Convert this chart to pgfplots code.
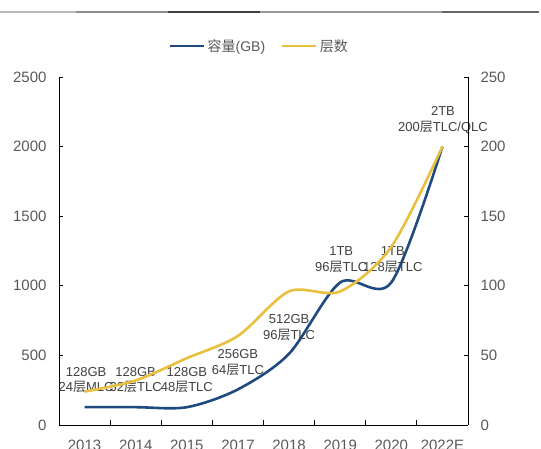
\documentclass[border=0pt]{standalone}
\usepackage{pgfplots}
\pgfplotsset{compat=1.18}
\usepackage{fontspec}
\setmainfont{Liberation Sans}
\newfontfamily\cjk{Noto Sans CJK SC}
\definecolor{capblue}{RGB}{31,74,128}
\definecolor{layyellow}{RGB}{233,191,62}
\definecolor{ticktext}{RGB}{89,89,89}
\definecolor{notetext}{RGB}{64,64,64}
\newcommand{\ceng}{{\cjk 层}}

\begin{document}
\begin{tikzpicture}
\path[use as bounding box] (0pt,0pt) rectangle (541pt,448pt);
% header rule
\draw[line width=1.6pt, color=black!28] (0pt,436pt) -- (76pt,436pt);
\draw[line width=1.2pt, color=black!45] (76pt,436pt) -- (168pt,436pt);
\draw[line width=1.2pt, color=black!75] (168pt,436pt) -- (260pt,436pt);
\draw[line width=1.2pt, color=black!40] (260pt,436pt) -- (442pt,436pt);
\draw[line width=1.2pt, color=black!60] (442pt,436pt) -- (539pt,436pt);

\pgfplotsset{
  every axis/.append style={
    scale only axis, width=409pt, height=348pt,
    at={(59pt,23pt)}, anchor=south west,
    xmin=-0.5, xmax=7.5,
    tick align=inside,
    axis line style={line width=0.9pt, black},
    tick style={line width=0.9pt, black},
    major tick length=4pt,
    ticklabel style={font=\fontsize{15}{18}\selectfont, color=ticktext},
    /pgf/number format/assume math mode=true,
    /pgf/number format/1000 sep={},
  },
}

\begin{axis}[
    clip=false,
    axis x line*=bottom,
    axis y line*=left,
    ymin=0, ymax=2500,
    ytick={0,500,1000,1500,2000,2500},
    xtick={0,1,2,3,4,5,6,7},
    xticklabels={2013,2014,2015,2017,2018,2019,2020,2022E},
    x tick style={draw=none},
    minor xtick={0.5,1.5,2.5,3.5,4.5,5.5,6.5},
    minor x tick style={draw=black, line width=0.9pt},
    minor tick length=5pt,
    xticklabel style={yshift=-11pt},
    yticklabel style={xshift=-9pt},
    legend columns=2,
    legend style={at={(0.49,1.089)}, anchor=center, draw=none, fill=none,
      font=\fontsize{14}{16}\selectfont, text=ticktext,
      /tikz/every even column/.append style={column sep=14pt}},
    legend image code/.code={\draw[#1] (0pt,0pt) -- (34pt,0pt);},
]
\addplot[capblue, line width=2.6pt, smooth] coordinates {
    (0,128) (1,128) (2,128) (3,256) (4,512) (5,1024) (6,1024) (7,2000)
};
\addlegendentry{{\cjk 容量}(GB)}
\addlegendimage{layyellow, line width=2.6pt}
\addlegendentry{{\cjk 层数}}

\begin{scope}[every node/.style={font=\fontsize{13}{15.5}\selectfont, text=notetext, align=center, inner sep=0pt}]
\node at (axis cs:0.03,323) {128GB\\24\ceng MLC};
\node at (axis cs:1.0,323) {128GB\\32\ceng TLC};
\node at (axis cs:2.0,323) {128GB\\48\ceng TLC};
\node at (axis cs:3.0,449) {256GB\\64\ceng TLC};
\node at (axis cs:4.0,700) {512GB\\96\ceng TLC};
\node at (axis cs:5.02,1189) {1TB\\96\ceng TLC};
\node at (axis cs:6.03,1189) {1TB\\128\ceng TLC};
\node at (axis cs:7.01,2191) {2TB\\200\ceng TLC/QLC};
\end{scope}
\end{axis}

\begin{axis}[
    axis x line=none,
    axis y line*=right,
    ymin=0, ymax=250,
    ytick={0,50,100,150,200,250},
    yticklabel style={xshift=9pt},
]
\addplot[layyellow, line width=2.6pt, smooth] coordinates {
    (0,24) (1,32) (2,48) (3,64) (4,96) (5,96) (6,128) (7,200)
};
\end{axis}
\end{tikzpicture}
\end{document}
